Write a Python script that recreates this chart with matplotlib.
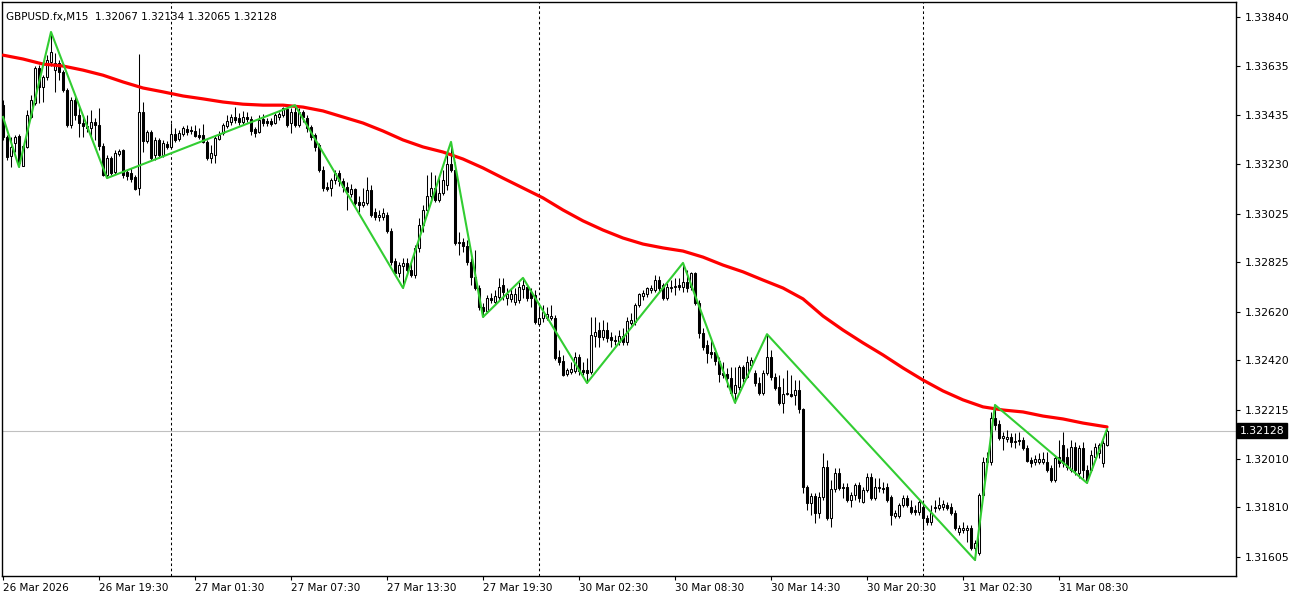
import matplotlib
matplotlib.use("Agg")
import matplotlib.pyplot as plt
import matplotlib.transforms as mtransforms
import numpy as np

# GBPUSD.fx M15 candles, bar 0 = 26 Mar 13:30
opens = [
    1.33475, 1.33343, 1.33264, 1.33319, 1.33347, 1.33223, 1.33302, 1.33426, 1.33484, 1.33629,
    1.33550, 1.33591, 1.33654, 1.33620, 1.33650, 1.33612, 1.33538, 1.33392, 1.33496, 1.33434,
    1.33401, 1.33388, 1.33380, 1.33405, 1.33392, 1.33306, 1.33185, 1.33256, 1.33198, 1.33272,
    1.33289, 1.33198, 1.33194, 1.33177, 1.33132, 1.33447, 1.33327, 1.33364, 1.33268, 1.33331,
    1.33268, 1.33314, 1.33302, 1.33355, 1.33335, 1.33355, 1.33376, 1.33372, 1.33368, 1.33351,
    1.33351, 1.33323, 1.33256, 1.33268, 1.33335, 1.33360, 1.33388, 1.33405, 1.33426, 1.33422,
    1.33405, 1.33426, 1.33418, 1.33376, 1.33364, 1.33418, 1.33409, 1.33409, 1.33401, 1.33426,
    1.33434, 1.33459, 1.33401, 1.33447, 1.33392, 1.33447, 1.33422, 1.33384, 1.33351, 1.33310,
    1.33206, 1.33136, 1.33132, 1.33165, 1.33194, 1.33161, 1.33136, 1.33107, 1.33128, 1.33074,
    1.33061, 1.33070, 1.33124, 1.33033, 1.33012, 1.33012, 1.33020, 1.32954, 1.32830, 1.32781,
    1.32809, 1.32822, 1.32793, 1.32772, 1.32884, 1.32979, 1.33041, 1.33099, 1.33132, 1.33082,
    1.33112, 1.33144, 1.33231, 1.33206, 1.32904, 1.32908, 1.32892, 1.32826, 1.32764, 1.32718,
    1.32640, 1.32623, 1.32677, 1.32661, 1.32681, 1.32730, 1.32677, 1.32673, 1.32661, 1.32669,
    1.32714, 1.32722, 1.32702, 1.32689, 1.32569, 1.32594, 1.32594, 1.32594, 1.32594, 1.32433,
    1.32416, 1.32362, 1.32371, 1.32375, 1.32433, 1.32379, 1.32379, 1.32371, 1.32519, 1.32544,
    1.32515, 1.32544, 1.32515, 1.32503, 1.32495, 1.32519, 1.32495, 1.32574, 1.32578, 1.32648,
    1.32685, 1.32693, 1.32710, 1.32710, 1.32751, 1.32730, 1.32677, 1.32718, 1.32722, 1.32730,
    1.32722, 1.32743, 1.32722, 1.32781, 1.32657, 1.32532, 1.32482, 1.32454, 1.32454, 1.32416,
    1.32367, 1.32362, 1.32346, 1.32284, 1.32308, 1.32391, 1.32350, 1.32399, 1.32367, 1.32325,
    1.32284, 1.32367, 1.32433, 1.32350, 1.32308, 1.32243, 1.32279, 1.32279, 1.32275, 1.32296,
    1.32218, 1.31894, 1.31829, 1.31857, 1.31787, 1.31853, 1.31977, 1.31766, 1.31886, 1.31953,
    1.31894, 1.31894, 1.31841, 1.31861, 1.31902, 1.31833, 1.31882, 1.31936, 1.31849, 1.31894,
    1.31890, 1.31894, 1.31853, 1.31774, 1.31774, 1.31820, 1.31849, 1.31812, 1.31799, 1.31791,
    1.31812, 1.31766, 1.31750, 1.31812, 1.31808, 1.31812, 1.31820, 1.31812, 1.31787, 1.31708,
    1.31716, 1.31716, 1.31725, 1.31642, 1.31622, 1.31861, 1.31998, 1.31998, 1.32180, 1.32155,
    1.32097, 1.32093, 1.32101, 1.32081, 1.32089, 1.32089, 1.32056, 1.32006, 1.31998, 1.31998,
    1.31998, 1.31998, 1.31973, 1.31923, 1.32019, 1.32068, 1.32019, 1.31965, 1.32060, 1.31953,
    1.32056, 1.31965, 1.31965, 1.32019, 1.32036, 1.31994, 1.32067,
]
highs = [
    1.33496, 1.33351, 1.33343, 1.33351, 1.33355, 1.33310, 1.33455, 1.33517, 1.33637, 1.33641,
    1.33599, 1.33682, 1.33778, 1.33691, 1.33662, 1.33620, 1.33546, 1.33509, 1.33513, 1.33475,
    1.33430, 1.33434, 1.33455, 1.33422, 1.33463, 1.33319, 1.33268, 1.33264, 1.33289, 1.33294,
    1.33294, 1.33206, 1.33215, 1.33185, 1.33686, 1.33488, 1.33372, 1.33372, 1.33343, 1.33339,
    1.33331, 1.33327, 1.33401, 1.33380, 1.33372, 1.33388, 1.33392, 1.33388, 1.33392, 1.33380,
    1.33396, 1.33331, 1.33310, 1.33351, 1.33368, 1.33401, 1.33434, 1.33438, 1.33467, 1.33443,
    1.33451, 1.33447, 1.33430, 1.33384, 1.33434, 1.33438, 1.33422, 1.33422, 1.33443, 1.33447,
    1.33467, 1.33467, 1.33463, 1.33475, 1.33463, 1.33455, 1.33434, 1.33392, 1.33360, 1.33319,
    1.33223, 1.33157, 1.33173, 1.33206, 1.33206, 1.33173, 1.33157, 1.33148, 1.33132, 1.33099,
    1.33132, 1.33177, 1.33144, 1.33049, 1.33041, 1.33049, 1.33033, 1.32967, 1.32842, 1.32826,
    1.32842, 1.32842, 1.32826, 1.32896, 1.33008, 1.33061, 1.33185, 1.33198, 1.33185, 1.33173,
    1.33206, 1.33268, 1.33323, 1.33240, 1.32950, 1.32925, 1.32917, 1.32842, 1.32875, 1.32730,
    1.32657, 1.32689, 1.32698, 1.32710, 1.32760, 1.32760, 1.32718, 1.32718, 1.32718, 1.32743,
    1.32760, 1.32734, 1.32718, 1.32710, 1.32648, 1.32648, 1.32640, 1.32648, 1.32606, 1.32462,
    1.32441, 1.32387, 1.32412, 1.32454, 1.32445, 1.32412, 1.32429, 1.32598, 1.32598, 1.32578,
    1.32586, 1.32578, 1.32536, 1.32523, 1.32544, 1.32553, 1.32598, 1.32615, 1.32657, 1.32698,
    1.32710, 1.32722, 1.32730, 1.32772, 1.32768, 1.32739, 1.32739, 1.32751, 1.32760, 1.32760,
    1.32822, 1.32793, 1.32785, 1.32785, 1.32669, 1.32553, 1.32503, 1.32503, 1.32470, 1.32433,
    1.32412, 1.32387, 1.32391, 1.32391, 1.32399, 1.32399, 1.32437, 1.32433, 1.32379, 1.32350,
    1.32379, 1.32527, 1.32462, 1.32367, 1.32358, 1.32346, 1.32379, 1.32358, 1.32337, 1.32337,
    1.32222, 1.31902, 1.31870, 1.31870, 1.31874, 1.32036, 1.32006, 1.31923, 1.31973, 1.31973,
    1.31911, 1.31911, 1.31874, 1.31911, 1.31915, 1.31894, 1.31953, 1.31953, 1.31932, 1.31932,
    1.31915, 1.31911, 1.31861, 1.31799, 1.31829, 1.31861, 1.31861, 1.31841, 1.31820, 1.31841,
    1.31841, 1.31778, 1.31820, 1.31841, 1.31853, 1.31841, 1.31833, 1.31829, 1.31799, 1.31737,
    1.31750, 1.31737, 1.31737, 1.31675, 1.31870, 1.32019, 1.32040, 1.32205, 1.32234, 1.32172,
    1.32122, 1.32130, 1.32118, 1.32118, 1.32122, 1.32101, 1.32068, 1.32019, 1.32027, 1.32036,
    1.32040, 1.32040, 1.31985, 1.32027, 1.32089, 1.32122, 1.32056, 1.32089, 1.32081, 1.32068,
    1.32081, 1.31985, 1.32048, 1.32077, 1.32077, 1.32089, 1.32134,
]
lows = [
    1.33331, 1.33248, 1.33219, 1.33281, 1.33219, 1.33223, 1.33298, 1.33422, 1.33475, 1.33484,
    1.33488, 1.33579, 1.33637, 1.33530, 1.33579, 1.33530, 1.33384, 1.33380, 1.33413, 1.33343,
    1.33343, 1.33364, 1.33339, 1.33331, 1.33289, 1.33181, 1.33173, 1.33185, 1.33189, 1.33264,
    1.33173, 1.33165, 1.33157, 1.33124, 1.33103, 1.33281, 1.33319, 1.33248, 1.33248, 1.33256,
    1.33260, 1.33294, 1.33294, 1.33323, 1.33327, 1.33347, 1.33351, 1.33355, 1.33343, 1.33335,
    1.33319, 1.33248, 1.33236, 1.33236, 1.33331, 1.33351, 1.33380, 1.33392, 1.33401, 1.33392,
    1.33396, 1.33405, 1.33351, 1.33343, 1.33360, 1.33388, 1.33388, 1.33388, 1.33396, 1.33413,
    1.33426, 1.33384, 1.33360, 1.33384, 1.33384, 1.33405, 1.33364, 1.33331, 1.33285, 1.33198,
    1.33120, 1.33120, 1.33099, 1.33148, 1.33140, 1.33116, 1.33041, 1.33095, 1.33061, 1.33033,
    1.33053, 1.33061, 1.33012, 1.33000, 1.32996, 1.33000, 1.32946, 1.32813, 1.32772, 1.32764,
    1.32718, 1.32785, 1.32764, 1.32760, 1.32867, 1.32950, 1.33020, 1.33082, 1.33074, 1.33074,
    1.33103, 1.33124, 1.33198, 1.32896, 1.32855, 1.32867, 1.32813, 1.32730, 1.32710, 1.32627,
    1.32598, 1.32615, 1.32657, 1.32648, 1.32669, 1.32669, 1.32648, 1.32661, 1.32648, 1.32657,
    1.32677, 1.32665, 1.32640, 1.32569, 1.32561, 1.32578, 1.32586, 1.32586, 1.32420, 1.32399,
    1.32354, 1.32354, 1.32362, 1.32367, 1.32358, 1.32358, 1.32325, 1.32362, 1.32474, 1.32474,
    1.32503, 1.32495, 1.32474, 1.32482, 1.32482, 1.32482, 1.32482, 1.32565, 1.32565, 1.32640,
    1.32669, 1.32681, 1.32698, 1.32702, 1.32702, 1.32669, 1.32669, 1.32702, 1.32689, 1.32710,
    1.32702, 1.32702, 1.32710, 1.32648, 1.32511, 1.32462, 1.32408, 1.32429, 1.32399, 1.32329,
    1.32346, 1.32308, 1.32275, 1.32243, 1.32296, 1.32329, 1.32346, 1.32387, 1.32312, 1.32275,
    1.32275, 1.32358, 1.32337, 1.32296, 1.32234, 1.32201, 1.32275, 1.32267, 1.32234, 1.32201,
    1.31870, 1.31799, 1.31778, 1.31746, 1.31766, 1.31841, 1.31758, 1.31729, 1.31874, 1.31882,
    1.31849, 1.31833, 1.31812, 1.31841, 1.31833, 1.31829, 1.31874, 1.31841, 1.31841, 1.31874,
    1.31870, 1.31833, 1.31737, 1.31766, 1.31766, 1.31812, 1.31812, 1.31782, 1.31778, 1.31778,
    1.31716, 1.31737, 1.31737, 1.31791, 1.31799, 1.31799, 1.31799, 1.31778, 1.31716, 1.31696,
    1.31704, 1.31667, 1.31634, 1.31592, 1.31613, 1.31853, 1.31985, 1.31985, 1.32130, 1.32089,
    1.32048, 1.32081, 1.32060, 1.32056, 1.32068, 1.32048, 1.31998, 1.31977, 1.31985, 1.31990,
    1.31990, 1.31957, 1.31915, 1.31915, 1.31977, 1.31977, 1.31965, 1.31957, 1.31944, 1.31932,
    1.31932, 1.31911, 1.31957, 1.32006, 1.32015, 1.31977, 1.32065,
]
closes = [
    1.33343, 1.33260, 1.33302, 1.33343, 1.33236, 1.33306, 1.33434, 1.33496, 1.33629, 1.33550,
    1.33591, 1.33662, 1.33695, 1.33650, 1.33612, 1.33538, 1.33392, 1.33496, 1.33434, 1.33401,
    1.33388, 1.33380, 1.33405, 1.33392, 1.33306, 1.33185, 1.33256, 1.33194, 1.33277, 1.33285,
    1.33185, 1.33181, 1.33169, 1.33128, 1.33447, 1.33327, 1.33364, 1.33256, 1.33331, 1.33268,
    1.33319, 1.33302, 1.33355, 1.33331, 1.33360, 1.33380, 1.33364, 1.33368, 1.33347, 1.33343,
    1.33323, 1.33256, 1.33277, 1.33339, 1.33351, 1.33392, 1.33409, 1.33426, 1.33413, 1.33405,
    1.33426, 1.33418, 1.33368, 1.33360, 1.33413, 1.33401, 1.33401, 1.33396, 1.33434, 1.33438,
    1.33463, 1.33392, 1.33447, 1.33392, 1.33447, 1.33426, 1.33380, 1.33343, 1.33302, 1.33206,
    1.33132, 1.33128, 1.33165, 1.33194, 1.33161, 1.33136, 1.33116, 1.33128, 1.33070, 1.33061,
    1.33074, 1.33124, 1.33020, 1.33012, 1.33020, 1.33029, 1.32954, 1.32826, 1.32781, 1.32813,
    1.32822, 1.32793, 1.32772, 1.32884, 1.32979, 1.33041, 1.33099, 1.33132, 1.33082, 1.33112,
    1.33165, 1.33231, 1.33206, 1.32904, 1.32908, 1.32892, 1.32826, 1.32764, 1.32718, 1.32640,
    1.32623, 1.32677, 1.32669, 1.32685, 1.32722, 1.32702, 1.32693, 1.32693, 1.32693, 1.32722,
    1.32730, 1.32677, 1.32677, 1.32577, 1.32594, 1.32619, 1.32610, 1.32602, 1.32429, 1.32412,
    1.32358, 1.32379, 1.32383, 1.32433, 1.32375, 1.32371, 1.32367, 1.32523, 1.32536, 1.32515,
    1.32544, 1.32511, 1.32503, 1.32499, 1.32519, 1.32495, 1.32582, 1.32586, 1.32648, 1.32693,
    1.32698, 1.32718, 1.32718, 1.32751, 1.32718, 1.32677, 1.32722, 1.32722, 1.32726, 1.32722,
    1.32743, 1.32718, 1.32781, 1.32657, 1.32532, 1.32474, 1.32450, 1.32445, 1.32416, 1.32362,
    1.32358, 1.32346, 1.32284, 1.32317, 1.32391, 1.32346, 1.32412, 1.32420, 1.32325, 1.32284,
    1.32367, 1.32433, 1.32350, 1.32304, 1.32243, 1.32279, 1.32284, 1.32271, 1.32296, 1.32218,
    1.31894, 1.31829, 1.31857, 1.31787, 1.31853, 1.31977, 1.31766, 1.31886, 1.31953, 1.31890,
    1.31890, 1.31841, 1.31861, 1.31902, 1.31849, 1.31882, 1.31936, 1.31849, 1.31894, 1.31890,
    1.31886, 1.31841, 1.31778, 1.31787, 1.31820, 1.31849, 1.31820, 1.31791, 1.31791, 1.31833,
    1.31766, 1.31750, 1.31787, 1.31808, 1.31820, 1.31824, 1.31808, 1.31787, 1.31725, 1.31725,
    1.31725, 1.31725, 1.31642, 1.31663, 1.31861, 1.31998, 1.32015, 1.32180, 1.32151, 1.32097,
    1.32105, 1.32101, 1.32081, 1.32085, 1.32085, 1.32056, 1.32002, 1.31994, 1.32010, 1.32010,
    1.32010, 1.31965, 1.31923, 1.32015, 1.31994, 1.31994, 1.31977, 1.32060, 1.31965, 1.32056,
    1.31965, 1.31923, 1.32027, 1.32060, 1.32068, 1.32077, 1.32128,
]

# moving average (red), read every 5 bars
ma_bars = list(range(0, 271, 5)) + [276]
ma_vals = [
    1.33682, 1.33666, 1.33645, 1.33637, 1.33620, 1.33599, 1.33571, 1.33546, 1.33530, 1.33513,
    1.33501, 1.33488, 1.33479, 1.33475, 1.33475, 1.33467, 1.33451, 1.33426, 1.33401, 1.33368,
    1.33331, 1.33302, 1.33281, 1.33252, 1.33215, 1.33173, 1.33132, 1.33091, 1.33041, 1.32996,
    1.32958, 1.32925, 1.32900, 1.32884, 1.32871, 1.32846, 1.32813, 1.32785, 1.32751, 1.32718,
    1.32673, 1.32602, 1.32544, 1.32491, 1.32441, 1.32387, 1.32337, 1.32292, 1.32255, 1.32226,
    1.32213, 1.32205, 1.32188, 1.32176, 1.32159, 1.32143,
]

# zigzag (green) turning points
zz_bars = [0, 4, 12, 26, 73, 100, 112, 120, 130, 146, 170, 183, 191, 243, 248, 271, 276]
zz_vals = [1.33426, 1.33219, 1.33778, 1.33173, 1.33475, 1.32718, 1.33323, 1.32598,
           1.32760, 1.32325, 1.32822, 1.32243, 1.32527, 1.31592, 1.32234, 1.31911, 1.32134]

# day separators (first bar of each new day)
day_starts = [42, 134, 230]

x_tick_bars = [0, 24, 48, 72, 96, 120, 144, 168, 192, 216, 240, 264]
x_tick_labels = ["26 Mar 2026", "26 Mar 19:30", "27 Mar 01:30", "27 Mar 07:30",
                 "27 Mar 13:30", "27 Mar 19:30", "30 Mar 02:30", "30 Mar 08:30",
                 "30 Mar 14:30", "30 Mar 20:30", "31 Mar 02:30", "31 Mar 08:30"]
y_ticks = [1.33840, 1.33635, 1.33435, 1.33230, 1.33025, 1.32825, 1.32620,
           1.32420, 1.32215, 1.32010, 1.31810, 1.31605]

o = np.array(opens)
h = np.array(highs)
l = np.array(lows)
c = np.array(closes)
x = np.arange(len(c))

fig = plt.figure(figsize=(13, 6), dpi=100)
ax = fig.add_axes([2 / 1300, 24 / 600, 1234 / 1300, 574 / 600])
ax.set_xlim(-0.25, 308.25)
ax.set_ylim(1.315259, 1.33902)

# wicks
ax.vlines(x, l, h, color="black", linewidth=0.75, zorder=2)

# bodies
up = c >= o
body_lo = np.minimum(o, c)
body_h = np.maximum(np.abs(c - o), 0.000008)
ax.bar(x[up], body_h[up], bottom=body_lo[up], width=0.65, color="white",
       edgecolor="black", linewidth=0.75, zorder=3)
ax.bar(x[~up], body_h[~up], bottom=body_lo[~up], width=0.65, color="black",
       edgecolor="black", linewidth=0.75, zorder=3)

# indicators
ax.plot(ma_bars, ma_vals, color="#ff0000", linewidth=2.3, zorder=4,
        solid_capstyle="round", solid_joinstyle="round")
ax.plot(zz_bars, zz_vals, color="#32cd32", linewidth=1.5, zorder=5)

for d in day_starts:
    ax.axvline(d, color="black", linestyle=(0, (2.5, 2.5)), linewidth=0.75, zorder=1)

ax.axhline(c[-1], color="#c0c0c0", linewidth=0.8, zorder=1)

# axes styling
for s in ax.spines.values():
    s.set_color("black")
    s.set_linewidth(1.0)

ax.yaxis.tick_right()
ax.set_yticks(y_ticks)
ax.set_yticklabels(["%.5f" % v for v in y_ticks])
ax.tick_params(axis="y", length=3, width=0.8, pad=3, labelsize=7.8, direction="out")

ax.set_xticks(x_tick_bars)
ax.set_xticklabels(x_tick_labels)
ax.tick_params(axis="x", length=3, width=0.8, pad=2, labelsize=7.5, direction="out")
for lab in ax.get_xticklabels():
    lab.set_horizontalalignment("left")

# current price tag
trans = mtransforms.blended_transform_factory(ax.transAxes, ax.transData)
ax.text(1.003, c[-1], "%.5f" % c[-1], transform=trans, ha="left", va="center",
        fontsize=7.8, color="white", zorder=6, clip_on=False,
        bbox=dict(boxstyle="square,pad=0.25", facecolor="black", edgecolor="black"))

fig.text(6 / 1300, 1 - 17 / 600,
         "GBPUSD.fx,M15  %.5f %.5f %.5f %.5f" % (o[-1], h[-1], l[-1], c[-1]),
         fontsize=7.5, va="center", ha="left")

fig.savefig("out.png", dpi=100, facecolor="white")
